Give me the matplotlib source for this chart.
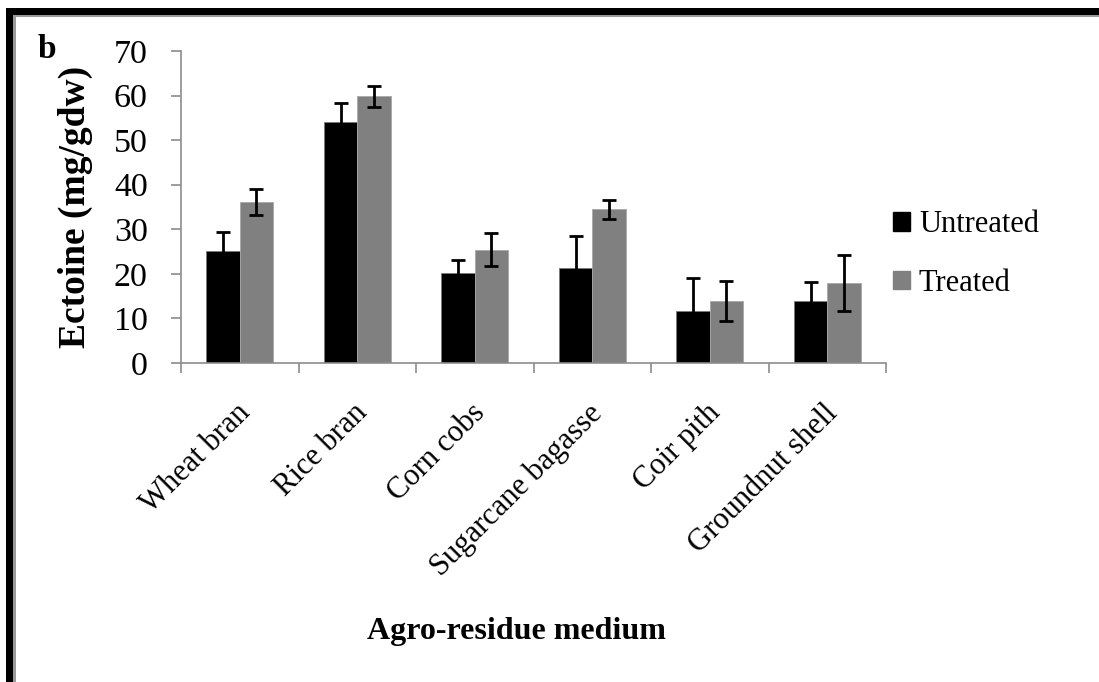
import matplotlib
matplotlib.use("Agg")
import matplotlib.pyplot as plt
import matplotlib.transforms as mtransforms
from matplotlib.patches import Rectangle, Patch
import numpy as np

# ectoine yield per agro-residue (mg/gdw), mean and error
media = ["Wheat bran", "Rice bran", "Corn cobs", "Sugarcane bagasse",
         "Coir pith", "Groundnut shell"]
untreated = [25.1, 54.1, 20.3, 21.4, 11.7, 14.0]
untreated_err = [4.4, 4.2, 2.8, 7.2, 7.4, 4.1]
treated = [36.1, 59.8, 25.4, 34.5, 14.0, 18.0]
treated_err = [2.9, 2.3, 3.7, 2.1, 4.5, 6.3]
y_ticks = [0, 10, 20, 30, 40, 50, 60, 70]

plt.rcParams['font.family'] = ['Liberation Serif', 'DejaVu Serif']

W, H = 1099, 682
fig = plt.figure(figsize=(W / 100, H / 100), dpi=100)
ax = fig.add_axes([181 / W, 1 - 363 / H, 705 / W, 312 / H])

x = np.arange(len(media))
bw = 0.285
axis_gray = '#8c8c8c'

ax.bar(x - bw / 2, untreated, bw, color='black', edgecolor='#7a7a7a',
       linewidth=0.6, label='Untreated', zorder=2)
ax.bar(x + bw / 2, treated, bw, color='#808080', edgecolor='#a8a8a8',
       linewidth=0.6, label='Treated', zorder=2)
ax.errorbar(x - bw / 2, untreated, yerr=untreated_err, fmt='none',
            ecolor='black', elinewidth=2, capsize=5, capthick=2, zorder=3)
ax.errorbar(x + bw / 2, treated, yerr=treated_err, fmt='none',
            ecolor='black', elinewidth=2, capsize=5, capthick=2, zorder=3)

ax.set_xlim(-0.5, len(media) - 0.5)
ax.set_ylim(0, 70)
ax.set_yticks(y_ticks)
ax.tick_params(axis='y', labelsize=24.5, length=7, width=1.2,
               color=axis_gray, pad=17)

# category labels at centres, tick marks at group boundaries
ax.set_xticks(x)
ax.set_xticklabels(media, rotation=45, ha='right', va='center',
                   rotation_mode='anchor', fontsize=22)
ax.set_xticks(np.arange(len(media) + 1) - 0.5, minor=True)
ax.tick_params(axis='x', which='major', length=0, pad=33)
ax.tick_params(axis='x', which='minor', length=7, width=1.2, color=axis_gray)
shift = mtransforms.ScaledTranslation(6 / 100, 0, fig.dpi_scale_trans)
for lbl in ax.get_xticklabels():
    lbl.set_transform(lbl.get_transform() + shift)

for side in ['top', 'right']:
    ax.spines[side].set_visible(False)
for side in ['left', 'bottom']:
    ax.spines[side].set_color(axis_gray)
    ax.spines[side].set_linewidth(1.2)

fig.text(75 / W, 1 - 207 / H, 'Ectoine (mg/gdw)', rotation=90,
         ha='center', va='center', fontsize=27, fontweight='bold')
fig.text(516 / W, 1 - 632 / H, 'Agro-residue medium', ha='center',
         va='center', fontsize=23, fontweight='bold')
fig.text(47 / W, 1 - 50 / H, 'b', ha='center', va='center', fontsize=24,
         fontweight='bold')

handles = [Patch(facecolor='black', edgecolor='black', label='Untreated'),
           Patch(facecolor='#808080', edgecolor='#808080', label='Treated')]
fig.legend(handles=handles, loc='center left',
           bbox_to_anchor=(893 / W, 1 - 254 / H), frameon=False,
           fontsize=22, handlelength=0.55, handleheight=0.55,
           handletextpad=0.3, labelspacing=0.95, borderpad=0,
           borderaxespad=0)

# heavy border along top and left edge
def px_rect(x0, y0, x1, y1, color):
    fig.add_artist(Rectangle((x0 / W, 1 - y1 / H), (x1 - x0) / W,
                             (y1 - y0) / H, transform=fig.transFigure,
                             facecolor=color, edgecolor='none'))

px_rect(6, 8, W, 15, 'black')
px_rect(6, 8, 13, H, 'black')
px_rect(13, 15, W, 17, '#9a9a9a')
px_rect(13, 15, 16, H, '#9a9a9a')

plt.savefig('out.png', dpi=100)
